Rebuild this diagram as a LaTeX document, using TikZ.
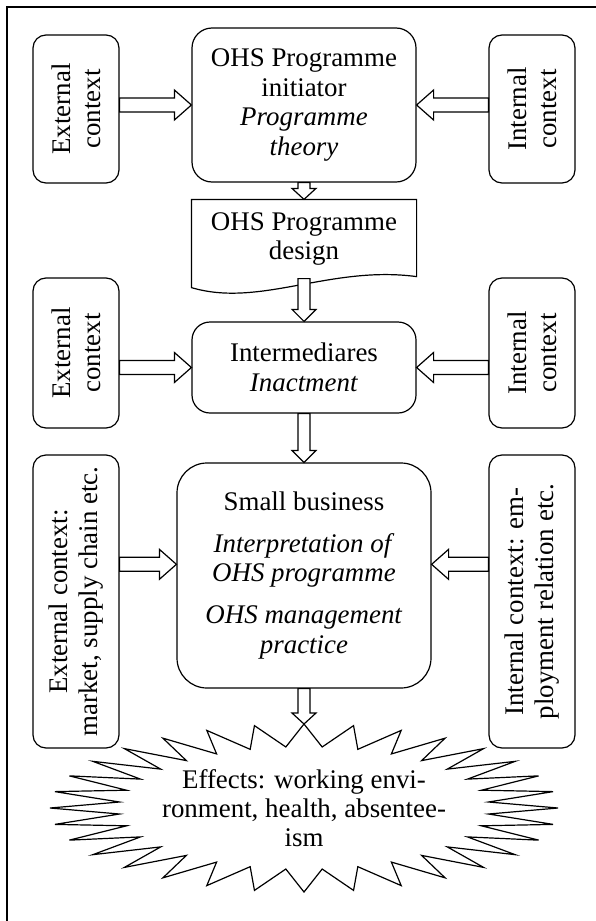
\documentclass[tikz,border=0pt]{standalone}
\usepackage{fontspec}
\setmainfont{Liberation Serif}
\usetikzlibrary{calc}

\newcommand{\fatarrow}[5]{%
\path (#1) coordinate (fa s) (#2) coordinate (fa t);
\path ($(fa t)!#5!(fa s)$) coordinate (fa h);
\draw[fill=white] ($(fa s)!#3!90:(fa t)$) -- ($(fa h)!#3!-90:(fa s)$) -- ($(fa h)!#4!-90:(fa s)$) -- (fa t) -- ($(fa h)!#4!90:(fa s)$) -- ($(fa h)!#3!90:(fa s)$) -- ($(fa s)!#3!-90:(fa t)$) -- cycle;}

\begin{document}
\begin{tikzpicture}
[x=1bp,y=-1bp,line width=1.2bp,
every node/.style={font=\fontsize{27}{30}\selectfont,align=center,inner sep=0pt},
sidebox/.style={draw,rounded corners=13bp,rotate=90,minimum height=86bp},
mainbox/.style={draw,minimum width=224bp}]
\useasboundingbox (0,0) rectangle (596,921);
\draw[line width=1.6bp] (7,921) -- (7,7) -- (596,7);

\node[sidebox,minimum width=148bp] (ext1) at (76,109) {External\\context};
\node[sidebox,minimum width=148bp] (int1) at (532,109) {Internal\\context};
\node[mainbox,rounded corners=20bp,minimum height=154bp] (initiator) at (304,105) {OHS Programme\\initiator\\\textit{Programme}\\\textit{theory}};

\node[minimum width=224bp,minimum height=78bp] (design) at (304,239) {OHS Programme\\design};
\draw ($(design.south west)+(0,9)$) -- (design.north west) -- (design.north east) -- ($(design.south east)+(0,-2)$) .. controls (330,265) and (260,308) .. ($(design.south west)+(0,9)$) -- cycle;

\node[sidebox,minimum width=150bp] (ext2) at (76,353) {External\\context};
\node[sidebox,minimum width=150bp] (int2) at (532,353) {Internal\\context};
\node[mainbox,rounded corners=18bp,minimum height=91bp] (intermed) at (304,367.5) {Intermediares\\\textit{Inactment}};

\node[sidebox,minimum width=293bp] (ext3) at (76,601.5) {External context:\\market, supply chain etc.};
\node[sidebox,minimum width=293bp] (int3) at (532,601.5) {Internal context: em-\\ployment relation etc.};
\node[draw,rounded corners=30bp,minimum width=254bp,minimum height=225bp] (business) at (304,575.5) {Small business\\[12bp]\textit{Interpretation of}\\\textit{OHS programme}\\[12bp]\textit{OHS management}\\\textit{practice}};

\node[font=\fontsize{27}{29}\selectfont] (effects) at (304,808) {Effects: working envi-\\ronment, health, absentee-\\ism};
\coordinate (burst top) at ($(effects.center)+(0,-84)$);
\draw (burst top) \foreach \k in {0,...,31}{ -- ($(effects.center)+({0.73*254*sin((2*\k+1)*5.625)},{-0.73*84*cos((2*\k+1)*5.625)})$) -- ($(effects.center)+({254*sin((2*\k+2)*5.625)},{-84*cos((2*\k+2)*5.625)})$)} -- cycle;

\fatarrow{ext1.south|-initiator.west}{initiator.west}{7bp}{15bp}{17bp}
\fatarrow{int1.north|-initiator.east}{initiator.east}{7bp}{15bp}{17bp}
\fatarrow{initiator.south}{design.north}{6bp}{12bp}{11bp}
\fatarrow{design.south}{intermed.north}{6bp}{12bp}{12bp}
\fatarrow{ext2.south|-intermed.west}{intermed.west}{7bp}{15bp}{17bp}
\fatarrow{int2.north|-intermed.east}{intermed.east}{7bp}{15bp}{17bp}
\fatarrow{intermed.south}{business.north}{6bp}{12bp}{12bp}
\fatarrow{ext3.south|-business.175}{business.175}{7bp}{15bp}{17bp}
\fatarrow{int3.north|-business.5}{business.5}{7bp}{15bp}{17bp}
\fatarrow{business.south}{burst top}{6bp}{12bp}{11bp}
\end{tikzpicture}
\end{document}
